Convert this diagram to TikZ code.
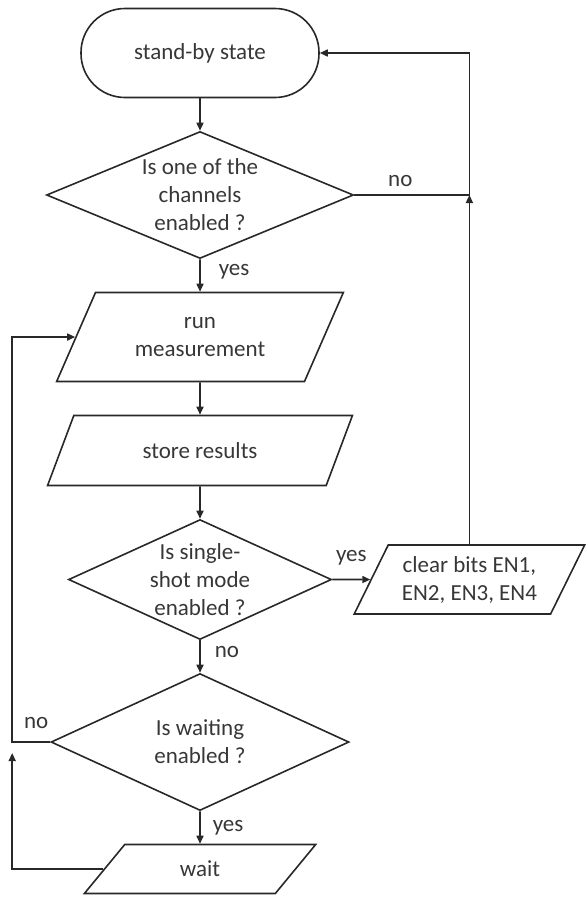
\documentclass[tikz,border=0pt]{standalone}
\usepackage{fontspec}
\setmainfont{Carlito}
\usepackage{tikz}
\usetikzlibrary{shapes.geometric, arrows.meta, positioning, calc}
\definecolor{cInk}{RGB}{55,55,55}
\definecolor{cLine}{RGB}{40,40,40}
\tikzset{
	startstop/.style={rectangle, rounded corners=44pt, minimum width=238pt, minimum height=89pt, text centered, align=center, draw=cLine, line width=1.6pt, text=cInk, font=\fontsize{23}{28}\selectfont},
	io/.style       ={trapezium, trapezium left angle=61, trapezium right angle=119, trapezium stretches=true, text centered, align=center, draw=cLine, line width=1.6pt, text=cInk, font=\fontsize{23}{28}\selectfont},
	decision/.style ={diamond, inner sep=0pt, text centered, align=center, draw=cLine, line width=1.6pt, text=cInk, font=\fontsize{23}{28}\selectfont},
	flowarrow/.style={-{Triangle[length=8pt, width=7pt]}, line width=1.6pt, draw=cLine},
	answer/.style   ={inner sep=0pt, text=cInk, font=\fontsize{23}{28}\selectfont},
}
\begin{document}
\begin{tikzpicture}[node distance=32.4pt]
	\useasboundingbox (0,0) rectangle (587pt,-897pt);
	\node[startstop] (standby) at (200pt,-53pt) {stand-by state};
	\node[decision, aspect=2.42, minimum width=307pt, minimum height=127pt, below=of standby] (chanon) {Is one of the\\channels\\enabled ?};
	\node[io, minimum width=287pt, minimum height=89pt, below=of chanon] (runmeas) {run\\measurement};
	\node[io, minimum width=305pt, minimum height=70pt, below=of runmeas] (store) {store results};
	\node[decision, aspect=2.19, minimum width=263pt, minimum height=120pt, below=of store] (single) {Is single-\\shot mode\\enabled ?};
	\node[decision, aspect=2.16, minimum width=298pt, minimum height=137pt, below=of single] (waiton) {Is waiting\\enabled ?};
	\node[io, minimum width=233pt, minimum height=49pt, below=of waiton] (wait) {wait};
	\node[io, minimum width=231pt, minimum height=69pt, right=38pt of single] (clearbits) {clear bits EN1,\\EN2, EN3, EN4};
	% loop corners
	\coordinate (rjoin) at (clearbits.north |- chanon.east);
	\coordinate (ljoin) at ([xshift=-38pt]waiton.west);
	% main line
	\draw[flowarrow] (standby) -- (chanon);
	\draw[flowarrow] (chanon) -- node[answer, right=18pt, pos=0.37] {yes} (runmeas);
	\draw[flowarrow] (runmeas) -- (store);
	\draw[flowarrow] (store) -- (single);
	\draw[flowarrow] (single) -- node[answer, right=14pt, pos=0.35] {no} (waiton);
	\draw[flowarrow] (waiton) -- node[answer, right=12pt] {yes} (wait);
	\draw[flowarrow] (single) -- node[answer, above=14pt] {yes} (clearbits);
	% loops
	\draw[flowarrow] (chanon.east) -- node[answer, above=8pt, pos=0.4] {no} (rjoin) |- (standby);
	\draw[flowarrow] (clearbits.north) -- (rjoin);
	\draw[flowarrow] (waiton.west) -- node[answer, above=13pt, pos=0.37] {no} (ljoin) |- (runmeas);
	\draw[flowarrow, shorten >=11pt] (wait) -| (ljoin);
\end{tikzpicture}
\end{document}
